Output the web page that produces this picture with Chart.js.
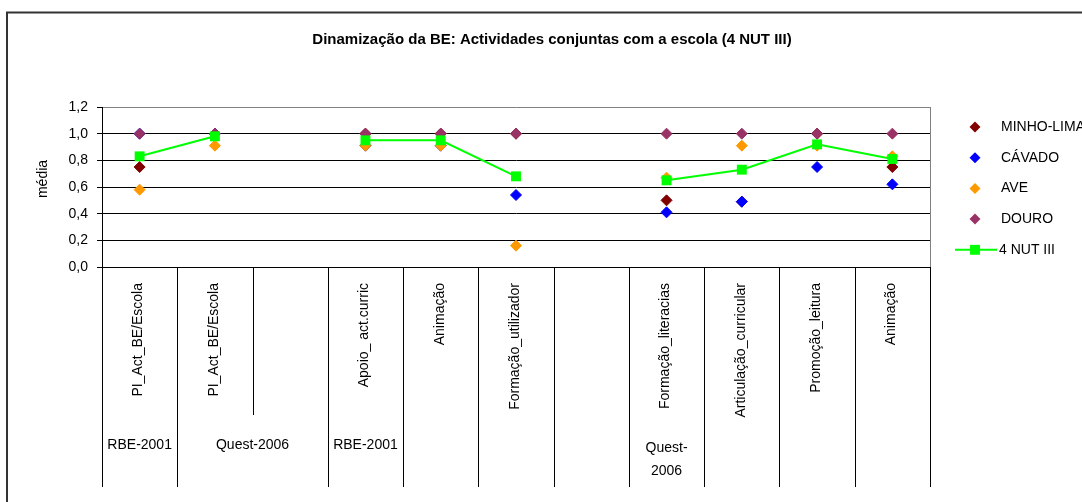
<!DOCTYPE html>
<html>
<head>
<meta charset="utf-8">
<title>Dinamização da BE</title>
<script src="https://cdn.jsdelivr.net/npm/chart.js@4/dist/chart.umd.min.js"></script>
<style>
	html, body { margin: 0; padding: 0; background: #ffffff; }
	#wrap { width: 1082px; height: 502px; position: relative; }
</style>
</head>
<body>
<div id="wrap"><canvas id="myChart" width="1082" height="502"></canvas></div>
<script>
/*
 * VARIABLES
 */
	var chartTitle = 'Dinamização da BE: Actividades conjuntas com a escola (4 NUT III)';
	var categories = ['PI_Act_BE/Escola', 'PI_Act_BE/Escola', '', 'Apoio_ act.curric', 'Animação',
		'Formação_utilizador', '', 'Formação_literacias', 'Articulação_curricular', 'Promoção_leitura', 'Animação'];
	var groupLabels = ['RBE-2001', 'Quest-2006', 'RBE-2001', '', '', '', 'Quest-2006', '', '', ''];
	var groupSpans  = [1, 2, 1, 1, 1, 1, 1, 1, 1, 1];

	var seriesNames = ['MINHO-LIMA', 'CÁVADO', 'AVE', 'DOURO', '4 NUT III'];
	var minhoLima = [0.75, 1.00, null, 1.00, 1.00, 1.00, null, 0.50, 0.49, 1.00, 0.75];
	var cavado    = [1.00, 1.00, null, 0.91, 0.91, 0.54, null, 0.41, 0.49, 0.75, 0.62];
	var ave       = [0.58, 0.91, null, 0.91, 0.91, 0.16, null, 0.67, 0.91, 0.91, 0.83];
	var douro     = [1.00, 1.00, null, 1.00, 1.00, 1.00, null, 1.00, 1.00, 1.00, 1.00];
	var nutIII    = [0.83, 0.98, null, 0.95, 0.95, 0.68, null, 0.65, 0.73, 0.92, 0.81];

	var yMin = 0, yMax = 1.2, yStep = 0.2;
	var yTitle = 'média';

	var FONT = '"Liberation Sans", Arial, sans-serif';

/*
 * HELPERS
 */
	/* one diamond series, later series are drawn on top */
	function diamondSeries(label, data, color, order) {
		return {
			label: label,
			data: data,
			showLine: false,
			pointStyle: 'rectRot',
			pointRadius: 5.5,
			pointHoverRadius: 5.5,
			pointBackgroundColor: color,
			pointBorderColor: color,
			pointBorderWidth: 1,
			borderColor: color,
			backgroundColor: color,
			order: order
		};
	}

	function drawMarker(ctx, ds, x, y) {
		var r = ds.pointRadius;
		ctx.save();
		ctx.fillStyle = ds.pointBackgroundColor;
		ctx.beginPath();
		if (ds.pointStyle == 'rectRot') {
			ctx.moveTo(x - r, y);
			ctx.lineTo(x, y - r);
			ctx.lineTo(x + r, y);
			ctx.lineTo(x, y + r);
		}
		else {
			var s = r * Math.SQRT1_2;
			ctx.rect(x - s, y - s, 2 * s, 2 * s);
		}
		ctx.closePath();
		ctx.fill();
		ctx.restore();
	}

/*
 * TITLE, CATEGORY TABLE, LEGEND AND FRAME
 */
	var decorations = {
		id: 'decorations',
		afterDraw: function(chart) {
			var ctx = chart.ctx;
			var area = chart.chartArea;
			var xs = chart.scales.x;
			var band = xs.getPixelForValue(1) - xs.getPixelForValue(0);
			var tableBottom = 487, groupTop = 415;

			ctx.save();

			/* plot frame: grey right edge, black category axis */
			ctx.lineWidth = 1;
			ctx.strokeStyle = '#808080';
			ctx.beginPath();
			ctx.moveTo(area.right + 0.5, area.top);
			ctx.lineTo(area.right + 0.5, area.bottom);
			ctx.stroke();

			ctx.strokeStyle = '#000000';
			ctx.beginPath();
			ctx.moveTo(area.left, Math.round(area.bottom) + 0.5);
			ctx.lineTo(area.right + 1, Math.round(area.bottom) + 0.5);
			ctx.stroke();

			/* separators between categories, shorter inside a group */
			var inner = {};
			var pos = 0;
			groupSpans.forEach(function(span) {
				for (var k = 1; k < span; k++) inner[pos + k] = true;
				pos += span;
			});
			for (var i = 0; i <= categories.length; i++) {
				var bx = Math.round(xs.getPixelForValue(0) - band / 2 + i * band) + 0.5;
				ctx.beginPath();
				ctx.moveTo(bx, area.bottom);
				ctx.lineTo(bx, inner[i] ? groupTop : tableBottom);
				ctx.stroke();
			}

			/* rotated category names */
			ctx.fillStyle = '#000000';
			ctx.font = '14px ' + FONT;
			categories.forEach(function(name, i) {
				if (!name) return;
				ctx.save();
				ctx.translate(xs.getPixelForValue(i) - 1, area.bottom + 16);
				ctx.rotate(-Math.PI / 2);
				ctx.textAlign = 'right';
				ctx.textBaseline = 'middle';
				ctx.fillText(name, 0, 0);
				ctx.restore();
			});

			/* group names, wrapped after the hyphen when too wide */
			ctx.textAlign = 'center';
			ctx.textBaseline = 'middle';
			pos = 0;
			groupLabels.forEach(function(label, g) {
				var span = groupSpans[g];
				var cx = xs.getPixelForValue(pos) - band / 2 + span * band / 2;
				pos += span;
				if (!label) return;
				var lines = [label];
				if (ctx.measureText(label).width > span * band - 8 && label.indexOf('-') > 0) {
					var cut = label.indexOf('-') + 1;
					lines = [label.slice(0, cut), label.slice(cut)];
				}
				var ly = lines.length > 1 ? 448 : 445;
				lines.forEach(function(t, k) {
					ctx.fillText(t, cx, ly + k * 23);
				});
			});

			/* value axis title */
			ctx.save();
			ctx.translate(43, 179);
			ctx.rotate(-Math.PI / 2);
			ctx.fillText(yTitle, 0, 0);
			ctx.restore();

			/* legend */
			ctx.textAlign = 'left';
			ctx.textBaseline = 'middle';
			chart.data.datasets.forEach(function(ds, i) {
				var ly = 127 + i * 30.7;
				var mx = 975;
				if (ds.showLine !== false) {
					ctx.strokeStyle = ds.borderColor;
					ctx.lineWidth = ds.borderWidth;
					ctx.beginPath();
					ctx.moveTo(955, ly);
					ctx.lineTo(997, ly);
					ctx.stroke();
					drawMarker(ctx, ds, mx, ly);
					ctx.fillStyle = '#000000';
					ctx.fillText(ds.label, 999, ly);
				}
				else {
					drawMarker(ctx, ds, mx, ly);
					ctx.fillStyle = '#000000';
					ctx.fillText(ds.label, 1001, ly);
				}
			});

			/* title */
			ctx.fillStyle = '#000000';
			ctx.textAlign = 'center';
			ctx.font = 'bold 15px ' + FONT;
			ctx.fillText(chartTitle, 552, 40);

			/* outer frame */
			ctx.strokeStyle = '#333333';
			ctx.lineWidth = 2;
			ctx.beginPath();
			ctx.moveTo(1082, 12.5);
			ctx.lineTo(7, 12.5);
			ctx.lineTo(7, 502);
			ctx.stroke();

			ctx.restore();
		}
	};

/*
 * CHART
 */
	var myChart = new Chart(document.getElementById('myChart'), {
		type: 'line',
		data: {
			labels: categories,
			datasets: [
				diamondSeries(seriesNames[0], minhoLima, '#800000', 5),
				diamondSeries(seriesNames[1], cavado, '#0000ff', 4),
				diamondSeries(seriesNames[2], ave, '#ff9900', 3),
				diamondSeries(seriesNames[3], douro, '#993366', 2),
				{
					label: seriesNames[4],
					data: nutIII,
					borderColor: '#00ff00',
					backgroundColor: '#00ff00',
					borderWidth: 2,
					pointStyle: 'rect',
					pointRadius: 7,
					pointHoverRadius: 7,
					pointBackgroundColor: '#00ff00',
					pointBorderColor: '#00ff00',
					pointBorderWidth: 0,
					spanGaps: false,
					tension: 0,
					order: 1
				}
			]
		},
		options: {
			responsive: false,
			animation: false,
			devicePixelRatio: 1,
			layout: {
				padding: { left: 30, top: 107, right: 152, bottom: 235 }
			},
			plugins: {
				legend: { display: false },
				title: { display: false },
				tooltip: { enabled: false }
			},
			scales: {
				x: {
					display: false,
					offset: true
				},
				y: {
					min: yMin,
					max: yMax,
					afterFit: function(scale) { scale.width = 72; },
					border: { display: true, color: '#000000', width: 1 },
					grid: {
						color: function(c) { return c.tick && c.tick.value >= yMax ? '#808080' : '#000000'; },
						tickColor: '#000000',
						tickLength: 5,
						drawTicks: true
					},
					ticks: {
						stepSize: yStep,
						padding: 9,
						color: '#000000',
						font: { family: FONT, size: 14 },
						callback: function(v) { return v.toFixed(1).replace('.', ','); }
					}
				}
			}
		},
		plugins: [decorations]
	});
</script>
</body>
</html>
